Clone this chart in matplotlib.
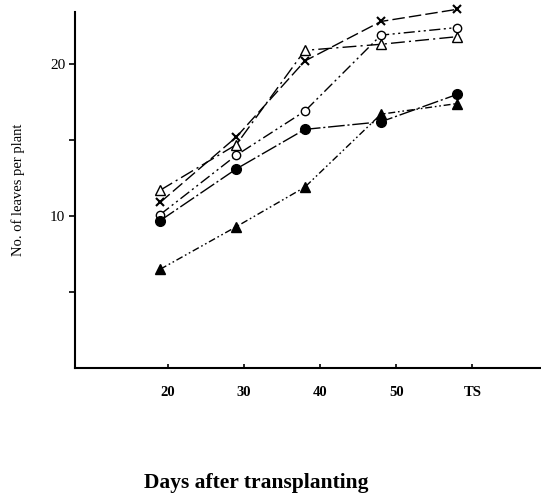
import matplotlib
matplotlib.use("Agg")
import matplotlib.pyplot as plt

# days after transplanting (TS = transplanting stage at harvest, plotted at 60)
days = [19, 29, 38, 48, 58]
tick_pos = [20, 30, 40, 50, 60]
tick_labels = ["20", "30", "40", "50", "TS"]

# no. of leaves per plant, one list per treatment
leaves_x = [10.9, 15.2, 20.2, 22.8, 23.6]
leaves_open_tri = [11.7, 14.7, 20.9, 21.3, 21.8]
leaves_open_circ = [10.1, 14.0, 16.9, 21.9, 22.4]
leaves_filled_circ = [9.7, 13.1, 15.7, 16.2, 18.0]
leaves_filled_tri = [6.5, 9.3, 11.9, 16.7, 17.4]

plt.rcParams["font.family"] = ["Liberation Serif", "DejaVu Serif"]

fig = plt.figure(figsize=(5.41, 4.94), dpi=100)
ax = fig.add_axes([0.1386, 0.255, 0.861, 0.72])

lw = 1.0
ax.plot(days, leaves_x, color="black", lw=lw, dashes=(9, 3),
        marker="x", ms=6, mew=1.5, clip_on=False)
ax.plot(days, leaves_open_tri, color="black", lw=lw, dashes=(10, 3, 1.5, 3),
        marker="^", ms=7, mfc="white", mew=1.0, clip_on=False)
ax.plot(days, leaves_open_circ, color="black", lw=lw, dashes=(8, 2.5, 1.5, 2.5, 1.5, 2.5),
        marker="o", ms=6, mfc="white", mew=1.0, clip_on=False)
ax.plot(days, leaves_filled_circ, color="black", lw=lw, dashes=(12, 2, 1.5, 2),
        marker="o", ms=7, clip_on=False)
ax.plot(days, leaves_filled_tri, color="black", lw=lw, dashes=(5, 2, 1.2, 2, 1.2, 2),
        marker="^", ms=7, clip_on=False)

ax.set_xlim(7.8, 69)
ax.set_ylim(0, 23.4)

for side in ["top", "right"]:
    ax.spines[side].set_visible(False)
ax.spines["left"].set_linewidth(1.5)
ax.spines["bottom"].set_linewidth(1.5)

ax.set_xticks(tick_pos)
ax.set_xticklabels(tick_labels, fontweight="bold", fontsize=10.5)
ax.tick_params(axis="x", direction="in", length=3, width=1.2, pad=13)

ax.set_yticks([5, 10, 15, 20])
ax.set_yticklabels(["", "10", "", "20"], fontsize=11)
ax.tick_params(axis="y", direction="out", length=4, width=1.2, pad=3)

ax.set_ylabel("No. of leaves per plant", fontsize=10.5, labelpad=18)
fig.text(0.473, 0.012, "Days after transplanting", fontsize=15.5, fontweight="bold",
         ha="center", va="baseline")

fig.savefig("out.png", dpi=100)
